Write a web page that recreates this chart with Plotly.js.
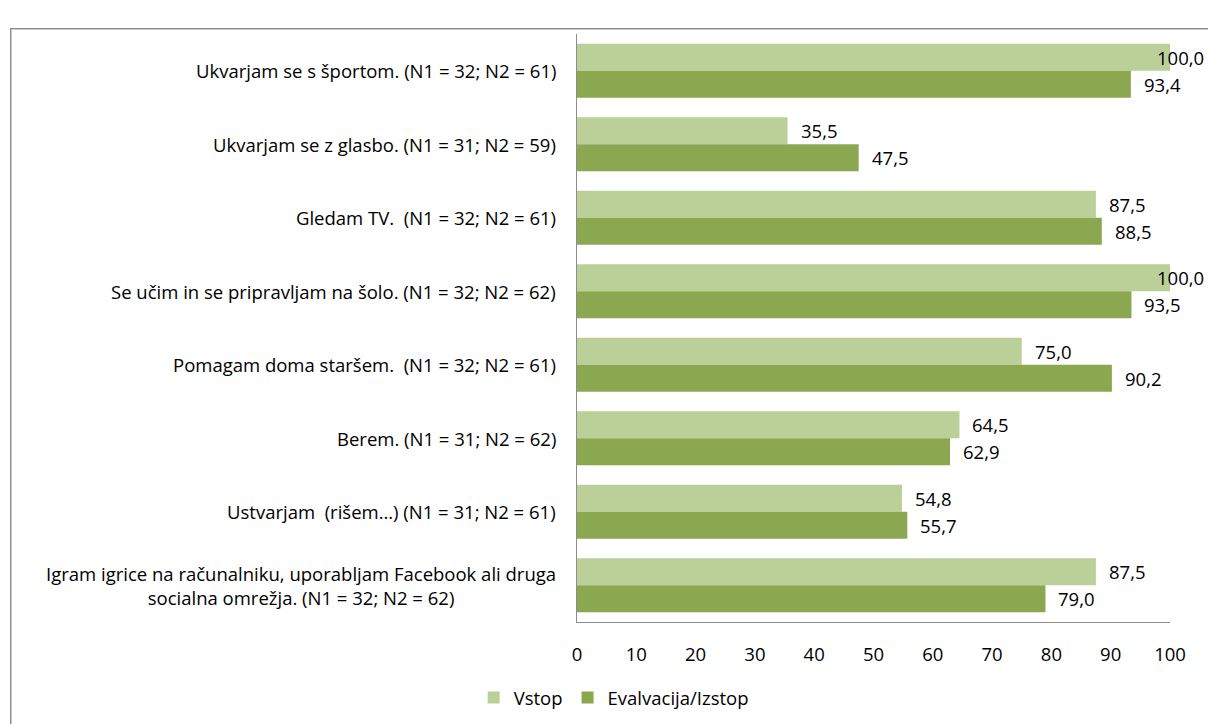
<!DOCTYPE html>
<html>
<head>
<meta charset="utf-8">
<script src="https://cdn.plot.ly/plotly-3.0.1.min.js"></script>
<style>
html,body{margin:0;padding:0;background:#fff;}
#frame{position:absolute;left:10px;top:28px;width:1220px;height:720px;border:1px solid #8c8c8c;box-shadow:1px 1px 0 #c8c8c8 inset;}
#chart{position:absolute;left:0;top:0;width:1208px;height:724px;}
</style>
</head>
<body>
<div id="frame"></div>
<div id="chart"></div>
<script>
const categories = [
  "Ukvarjam se s športom. (N1 = 32; N2 = 61)",
  "Ukvarjam se z glasbo. (N1 = 31; N2 = 59)",
  "Gledam TV.  (N1 = 32; N2 = 61)",
  "Se učim in se pripravljam na šolo. (N1 = 32; N2 = 62)",
  "Pomagam doma staršem.  (N1 = 32; N2 = 61)",
  "Berem. (N1 = 31; N2 = 62)",
  "Ustvarjam  (rišem…) (N1 = 31; N2 = 61)",
  "Igram igrice na računalniku, uporabljam Facebook ali druga<br>socialna omrežja. (N1 = 32; N2 = 62)"
];
const vstop = [100.0, 35.5, 87.5, 100.0, 75.0, 64.5, 54.8, 87.5];
const izstop = [93.4, 47.5, 88.5, 93.5, 90.2, 62.9, 55.7, 79.0];
const seriesNames = ["Vstop", "Evalvacija/Izstop"];
const colors = ["#BBD098", "#8BA750"];
const xTicks = [0,10,20,30,40,50,60,70,80,90,100];

const font = "'Open Sans', Lato, sans-serif";
const fs = 18.5;
const ids = categories.map((c,i)=>"c"+i);

const traces = [vstop, izstop].map((vals, k) => ({
  type: "bar",
  orientation: "h",
  name: seriesNames[k],
  x: vals,
  y: ids,
  marker: {color: colors[k]},
  hoverinfo: "x"
}));

const annotations = [];
categories.forEach((c,i)=>{
  annotations.push({
    xref: "paper", yref: "y", x: 0, y: ids[i], xanchor: "right", yanchor: "middle",
    xshift: -19, text: c, showarrow: false, align: "center",
    font: {family: font, size: fs, color: "#000"}
  });
});
[vstop, izstop].forEach((vals, k) => {
  vals.forEach((v, i) => {
    const big = v >= 98;
    annotations.push({
      xref: "x", yref: "y", x: v, y: ids[i],
      xanchor: big ? "right" : "left", yanchor: "middle",
      xshift: big ? 36 : 11, yshift: k === 0 ? 13.5 : -13.5,
      text: v.toFixed(1).replace(".", ","), showarrow: false,
      font: {family: font, size: fs, color: "#000"}
    });
  });
});

const layout = {
  width: 1208, height: 724,
  margin: {l: 577, r: 38, t: 34, b: 102, autoexpand: false},
  paper_bgcolor: "rgba(0,0,0,0)",
  plot_bgcolor: "rgba(0,0,0,0)",
  barmode: "group",
  bargap: 0.265,
  bargroupgap: 0,
  font: {family: font, size: fs, color: "#000"},
  xaxis: {
    range: [0, 100], tickvals: xTicks, ticktext: xTicks.map(String),
    showgrid: false, zeroline: false, showline: true, linecolor: "#8c8c8c", linewidth: 1,
    ticks: "", ticklabelstandoff: 16, fixedrange: true, automargin: false,
    tickfont: {family: font, size: fs, color: "#000"}
  },
  yaxis: {
    autorange: "reversed", showticklabels: false, showgrid: false, zeroline: false,
    showline: true, linecolor: "#8c8c8c", linewidth: 1, ticks: "", fixedrange: true
  },
  showlegend: true,
  legend: {
    orientation: "h", xref: "container", yref: "container",
    x: 0.508, xanchor: "center", y: 0.036, yanchor: "middle",
    font: {family: font, size: fs, color: "#000"}, itemwidth: 30, traceorder: "normal"
  },
  annotations: annotations
};

Plotly.newPlot("chart", traces, layout, {displayModeBar: false, staticPlot: true});
</script>
</body>
</html>
